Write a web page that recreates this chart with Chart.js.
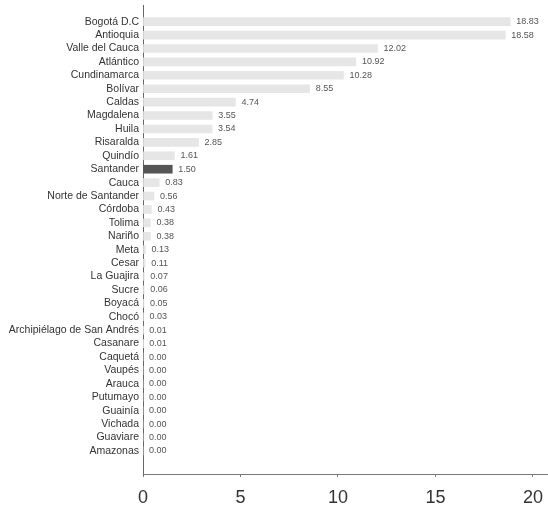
<!DOCTYPE html>
<html>
<head>
<meta charset="utf-8">
<script src="https://cdn.jsdelivr.net/npm/chart.js@4/dist/chart.umd.min.js"></script>
<style>
    html, body { margin: 0; padding: 0; background: #fff; }
    #wrap { width: 548px; height: 507px; position: relative; }
</style>
</head>
<body>
<div id="wrap"><canvas id="chart"></canvas></div>
<script>
// departments, top to bottom
const departments = [
    'Bogotá D.C', 'Antioquia', 'Valle del Cauca', 'Atlántico', 'Cundinamarca',
    'Bolívar', 'Caldas', 'Magdalena', 'Huila', 'Risaralda', 'Quindío',
    'Santander', 'Cauca', 'Norte de Santander', 'Córdoba', 'Tolima', 'Nariño',
    'Meta', 'Cesar', 'La Guajira', 'Sucre', 'Boyacá', 'Chocó',
    'Archipiélago de San Andrés', 'Casanare', 'Caquetá', 'Vaupés', 'Arauca',
    'Putumayo', 'Guainía', 'Vichada', 'Guaviare', 'Amazonas'
];
const shares = [
    18.83, 18.58, 12.02, 10.92, 10.28,
    8.55, 4.74, 3.55, 3.54, 2.85, 1.61,
    1.50, 0.83, 0.56, 0.43, 0.38, 0.38,
    0.13, 0.11, 0.07, 0.06, 0.05, 0.03,
    0.01, 0.01, 0.00, 0.00, 0.00,
    0.00, 0.00, 0.00, 0.00, 0.00
];
const xTicks = [0, 5, 10, 15, 20];
const highlighted = 'Santander';

const labelFont = "'Liberation Sans', Arial, sans-serif";

// writes the value to the right of every bar
const valueLabels = {
    id: 'valueLabels',
    afterDatasetsDraw(chart) {
        const ctx = chart.ctx;
        const meta = chart.getDatasetMeta(0);
        ctx.save();
        ctx.font = "9px " + labelFont;
        ctx.fillStyle = '#555';
        ctx.textAlign = 'left';
        ctx.textBaseline = 'middle';
        meta.data.forEach((bar, i) => {
            ctx.fillText(shares[i].toFixed(2), bar.x + 6, bar.y);
        });
        ctx.restore();
    }
};

new Chart(document.getElementById('chart'), {
    type: 'bar',
    data: {
        datasets: [{
            data: shares.map((v, i) => ({ x: v, y: i })),
            backgroundColor: departments.map(d => d === highlighted ? '#555555' : '#e6e6e6'),
            borderWidth: 0,
            barThickness: 8
        }]
    },
    options: {
        indexAxis: 'y',
        responsive: true,
        maintainAspectRatio: false,
        animation: false,
        layout: { padding: { top: 5, right: 0, bottom: 0, left: 0 } },
        plugins: {
            legend: { display: false },
            tooltip: { enabled: false }
        },
        scales: {
            x: {
                type: 'linear',
                min: 0,
                max: 20.77,
                afterBuildTicks: scale => {
                    scale.ticks = xTicks.map(v => ({ value: v }));
                },
                afterFit: scale => {
                    scale.height = 33;
                    scale.paddingLeft = 0;
                    scale.paddingRight = 0;
                },
                grid: { display: true, drawOnChartArea: false, tickLength: 3, color: '#777' },
                border: { display: true, color: '#777', width: 1 },
                ticks: {
                    color: '#333',
                    padding: 10,
                    font: { family: labelFont, size: 18 }
                }
            },
            y: {
                type: 'linear',
                reverse: true,
                min: -0.71,
                max: 33.19,
                afterBuildTicks: scale => {
                    scale.ticks = departments.map((d, i) => ({ value: i }));
                },
                afterFit: scale => {
                    scale.width = 143;
                    scale.paddingTop = 0;
                    scale.paddingBottom = 0;
                },
                grid: { display: false, drawTicks: false, tickLength: 0 },
                border: { display: true, color: '#666', width: 1 },
                ticks: {
                    autoSkip: false,
                    color: '#333',
                    padding: 4,
                    font: { family: labelFont, size: 10.5 },
                    callback: value => departments[value] ?? ''
                }
            }
        }
    },
    plugins: [valueLabels]
});
</script>
</body>
</html>
